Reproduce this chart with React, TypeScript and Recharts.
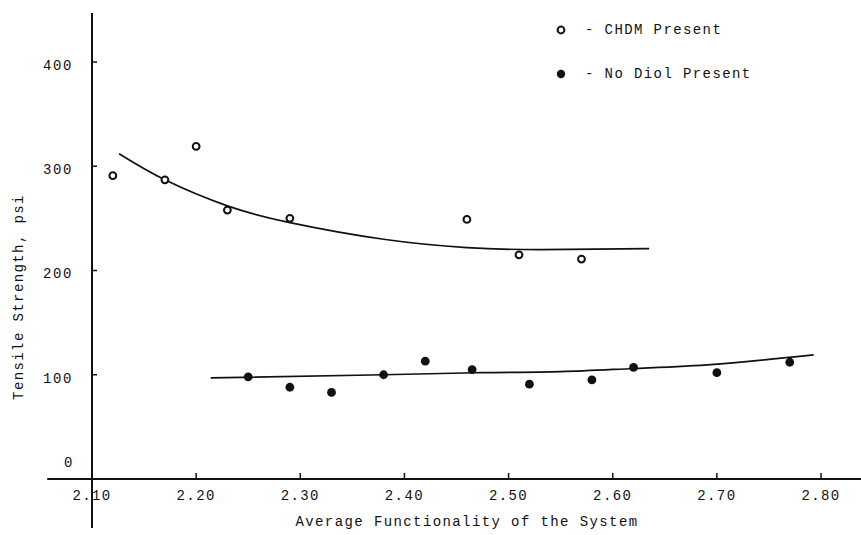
import React from 'react';
import { ComposedChart, Line, Scatter, XAxis, YAxis, ReferenceLine } from 'recharts';

// CHDM Present (open circles)
const chdmPoints = [
  { x: 2.12, y: 291 },
  { x: 2.17, y: 287 },
  { x: 2.2, y: 319 },
  { x: 2.23, y: 258 },
  { x: 2.29, y: 250 },
  { x: 2.46, y: 249 },
  { x: 2.51, y: 215 },
  { x: 2.57, y: 211 },
];

// No Diol Present (filled circles)
const noDiolPoints = [
  { x: 2.25, y: 98 },
  { x: 2.29, y: 88 },
  { x: 2.33, y: 83 },
  { x: 2.38, y: 100 },
  { x: 2.42, y: 113 },
  { x: 2.465, y: 105 },
  { x: 2.52, y: 91 },
  { x: 2.58, y: 95 },
  { x: 2.62, y: 107 },
  { x: 2.7, y: 102 },
  { x: 2.77, y: 112 },
];

// Hand-drawn fitted curves
const chdmFit = [
  { x: 2.126, y: 312 },
  { x: 2.17, y: 287 },
  { x: 2.23, y: 262 },
  { x: 2.29, y: 246 },
  { x: 2.38, y: 230 },
  { x: 2.46, y: 222 },
  { x: 2.53, y: 220 },
  { x: 2.635, y: 221 },
];

const noDiolFit = [
  { x: 2.214, y: 97 },
  { x: 2.38, y: 100 },
  { x: 2.473, y: 102 },
  { x: 2.55, y: 103 },
  { x: 2.62, y: 106 },
  { x: 2.697, y: 110 },
  { x: 2.793, y: 119 },
];

const xTicks = [2.1, 2.2, 2.3, 2.4, 2.5, 2.6, 2.7, 2.8];
const yTicks = [0, 100, 200, 300, 400];

const xTitle = 'Average Functionality of the System';
const yTitle = 'Tensile Strength, psi';
const legendItems = ['CHDM Present', 'No Diol Present'];

const INK = '#111111';
const FONT = '"Liberation Mono", "DejaVu Sans Mono", monospace';

const XTick = (props: any) => {
  const { x, y, payload } = props;
  const v = payload.value as number;
  return (
    <g>
      {Math.abs(v - 2.1) > 1e-6 && (
        <line x1={x} x2={x} y1={y} y2={y - 6} stroke={INK} strokeWidth={1.5} />
      )}
      <text
        x={x}
        y={y + 21}
        textAnchor="middle"
        fontFamily={FONT}
        fontSize={14}
        letterSpacing={1.4}
        fill={INK}
      >
        {v.toFixed(2)}
      </text>
    </g>
  );
};

const YTick = (props: any) => {
  const { x, y, payload } = props;
  const v = payload.value as number;
  const isZero = v === 0;
  return (
    <g>
      {!isZero && <line x1={x} x2={x + 5} y1={y} y2={y} stroke={INK} strokeWidth={1.5} />}
      <text
        x={isZero ? x - 18 : x - 19}
        y={isZero ? y - 12 : y + 8}
        textAnchor="end"
        fontFamily={FONT}
        fontSize={14}
        letterSpacing={1.6}
        fill={INK}
      >
        {String(v)}
      </text>
    </g>
  );
};

const OpenCircle = (props: any) => {
  const { cx, cy } = props;
  return <circle cx={cx} cy={cy} r={3.4} fill="#fff" stroke={INK} strokeWidth={2} />;
};

const FilledCircle = (props: any) => {
  const { cx, cy } = props;
  return <circle cx={cx} cy={cy} r={4.4} fill={INK} stroke="none" />;
};

export default function App() {
  const textStyle: React.CSSProperties = {
    position: 'absolute',
    fontFamily: FONT,
    fontSize: 14,
    letterSpacing: 1.4,
    color: INK,
    whiteSpace: 'nowrap',
    lineHeight: '16px',
  };
  return (
    <div style={{ position: 'absolute', left: 0, top: 0, width: 861, height: 535, background: '#fff' }}>
      <ComposedChart
        width={861}
        height={535}
        margin={{ top: 13, right: 0, left: 52, bottom: 16 }}
      >
        <XAxis
          dataKey="x"
          type="number"
          domain={[2.1, 2.8384]}
          allowDataOverflow
          ticks={xTicks}
          height={40}
          tickSize={0}
          tickMargin={0}
          tickLine={false}
          axisLine={{ stroke: INK, strokeWidth: 2 }}
          tick={<XTick />}
          interval={0}
        />
        <YAxis
          type="number"
          domain={[0, 447]}
          allowDataOverflow
          ticks={yTicks}
          width={40}
          tickSize={0}
          tickMargin={0}
          tickLine={false}
          axisLine={{ stroke: INK, strokeWidth: 2 }}
          tick={<YTick />}
          interval={0}
        />
        <ReferenceLine
          segment={[{ x: 2.1, y: 0 }, { x: 2.1, y: -47 }]}
          ifOverflow="visible"
          stroke={INK}
          strokeWidth={2}
        />
        <ReferenceLine
          segment={[{ x: 2.057, y: 0 }, { x: 2.1, y: 0 }]}
          ifOverflow="visible"
          stroke={INK}
          strokeWidth={2}
        />
        <Line
          data={chdmFit}
          dataKey="y"
          type="natural"
          dot={false}
          activeDot={false}
          stroke={INK}
          strokeWidth={1.7}
          isAnimationActive={false}
        />
        <Line
          data={noDiolFit}
          dataKey="y"
          type="natural"
          dot={false}
          activeDot={false}
          stroke={INK}
          strokeWidth={1.7}
          isAnimationActive={false}
        />
        <Scatter
          data={chdmPoints}
          dataKey="y"
          shape={<OpenCircle />}
          isAnimationActive={false}
        />
        <Scatter
          data={noDiolPoints}
          dataKey="y"
          shape={<FilledCircle />}
          isAnimationActive={false}
        />
      </ComposedChart>

      {/* Legend */}
      <svg style={{ position: 'absolute', left: 552, top: 20 }} width={20} height={65}>
        <circle cx={9} cy={10} r={3.4} fill="#fff" stroke={INK} strokeWidth={2} />
        <circle cx={9} cy={54} r={4.2} fill={INK} />
      </svg>
      <div style={{ ...textStyle, left: 585, top: 22 }}>{'- ' + legendItems[0]}</div>
      <div style={{ ...textStyle, left: 585, top: 66 }}>{'- ' + legendItems[1]}</div>

      {/* Axis titles */}
      <div style={{ ...textStyle, left: 467, top: 514, transform: 'translateX(-50%)' }}>{xTitle}</div>
      <div
        style={{
          ...textStyle,
          left: 19,
          top: 297,
          transform: 'translate(-50%, -50%) rotate(-90deg)',
        }}
      >
        {yTitle}
      </div>
    </div>
  );
}
